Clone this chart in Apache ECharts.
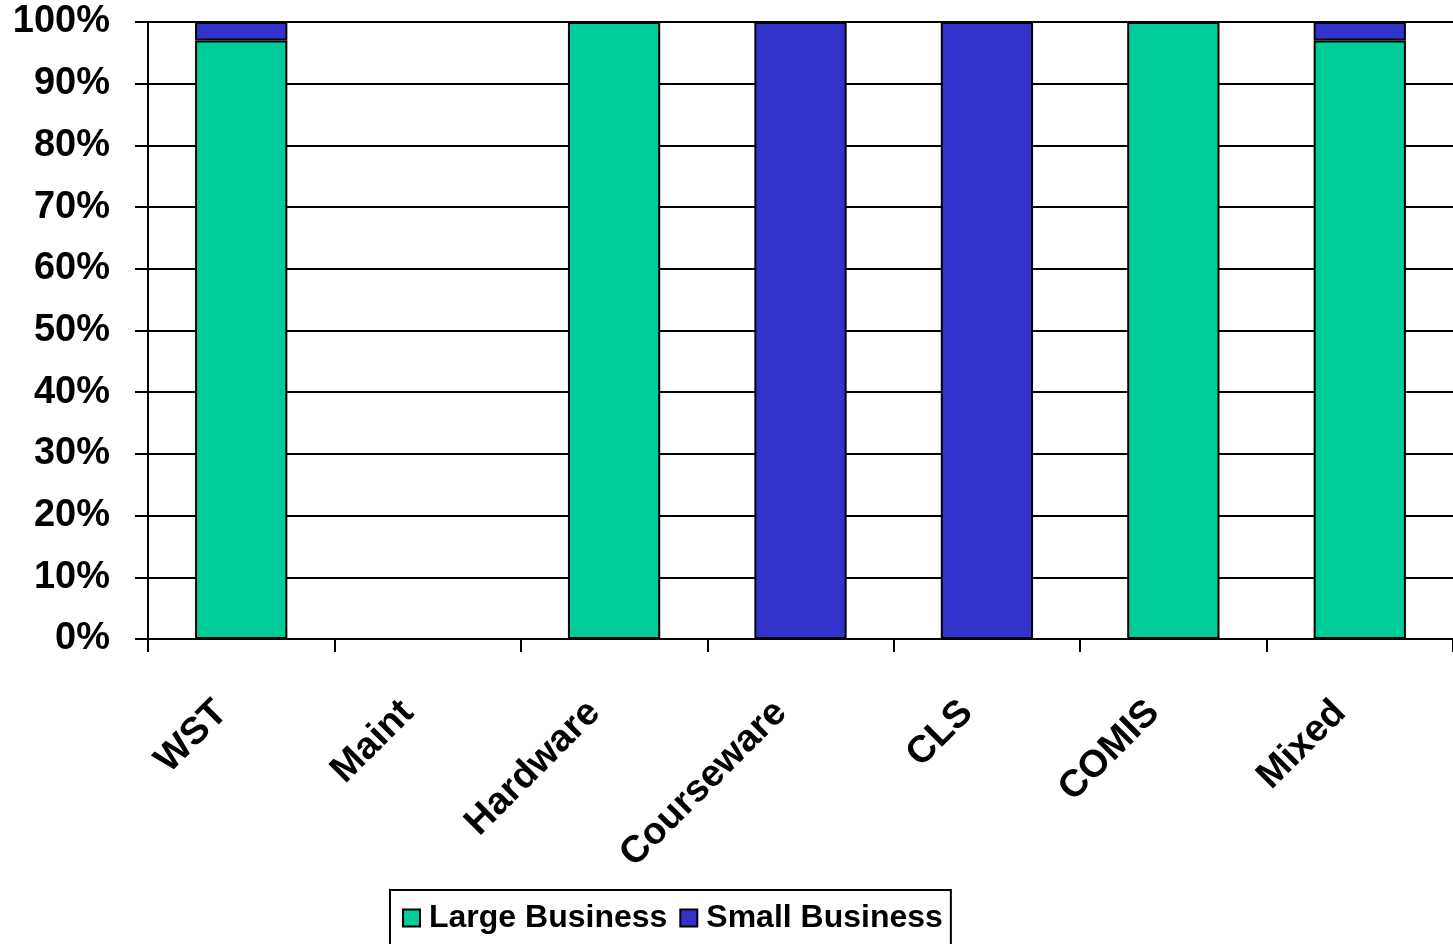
<!DOCTYPE html>
<html>
<head>
<meta charset="utf-8">
<script src="https://cdn.jsdelivr.net/npm/echarts@6/dist/echarts.min.js"></script>
<style>
html,body{margin:0;padding:0;background:#fff;}
#c{width:1453px;height:944px;}
</style>
</head>
<body>
<div id="c"></div>
<script>
const categories = ['WST', 'Maint', 'Hardware', 'Courseware', 'CLS', 'COMIS', 'Mixed'];
const largeBusiness = [97, 0, 100, 0, 0, 100, 97];
const smallBusiness = [3, 0, 0, 100, 100, 0, 3];
const seriesNames = ['Large Business', 'Small Business'];

const font = '"Liberation Sans", Arial, sans-serif';
const chart = echarts.init(document.getElementById('c'), null, {renderer: 'canvas'});
const toData = arr => arr.map(v => v === 0 ? null : v);
chart.setOption({
  animation: false,
  backgroundColor: '#ffffff',
  grid: {left: 148, top: 22, width: 1311, height: 617, containLabel: false},
  legend: {
    left: 390, top: 890,
    data: seriesNames,
    orient: 'horizontal',
    padding: [12, 8, 14, 12],
    itemGap: 12,
    itemWidth: 17, itemHeight: 17,
    borderColor: '#000', borderWidth: 2, borderRadius: 0,
    icon: 'rect',
    textStyle: {fontFamily: font, fontWeight: 'bold', fontSize: 32, color: '#000', padding: [3, 0, 0, 4]}
  },
  xAxis: {
    type: 'category',
    data: categories,
    axisLine: {lineStyle: {color: '#000', width: 2}},
    axisTick: {show: true, alignWithLabel: false, length: 13, lineStyle: {color: '#000', width: 2}},
    axisLabel: {rotate: 45, margin: 48, fontFamily: font, fontWeight: 'bold', fontSize: 38, color: '#000', interval: 0, padding: [0, 28, 0, 0]},
    splitLine: {show: false}
  },
  yAxis: {
    type: 'value', min: 0, max: 100, interval: 10,
    axisLine: {show: true, lineStyle: {color: '#000', width: 2}},
    axisTick: {show: true, length: 13, lineStyle: {color: '#000', width: 2}},
    axisLabel: {formatter: '{value}%', margin: 38, fontFamily: font, fontWeight: 'bold', fontSize: 38, color: '#000'},
    splitLine: {show: true, lineStyle: {color: '#000', width: 2}}
  },
  series: [
    {name: seriesNames[0], type: 'bar', stack: 'a', barWidth: '49.5%', data: toData(largeBusiness),
     itemStyle: {color: '#00CC99', borderColor: '#000', borderWidth: 2}},
    {name: seriesNames[1], type: 'bar', stack: 'a', barWidth: '49.5%', data: toData(smallBusiness),
     itemStyle: {color: '#3333CC', borderColor: '#000', borderWidth: 2}}
  ]
});
</script>
</body>
</html>
